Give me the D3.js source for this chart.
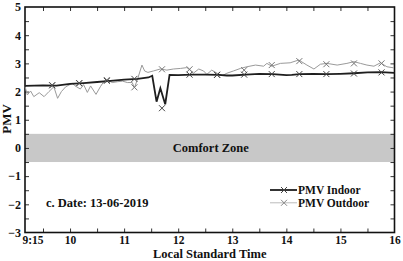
<!DOCTYPE html>
<html>
<head>
<meta charset="utf-8">
<script src="https://cdn.jsdelivr.net/npm/d3@7"></script>
<style>
  body { margin: 0; background: #fff; }
  svg text { font-family: "Liberation Serif", "Times New Roman", serif; font-weight: bold; fill: #111; }
</style>
</head>
<body>
<script>
(function(){

//series data (time in decimal hours, PMV)
var indoorTime = [9.17, 9.5, 9.75, 10.0, 10.25, 10.5, 10.75, 11.0, 11.25, 11.45, 11.52, 11.6, 11.67, 11.76, 11.84, 12.0, 12.25, 12.5, 12.75, 12.9, 13.0, 13.25, 13.5, 13.75, 14.0, 14.1, 14.25, 14.5, 14.75, 15.0, 15.25, 15.5, 15.75, 16.0];
var indoorPMV  = [2.2, 2.22, 2.21, 2.27, 2.3, 2.34, 2.38, 2.42, 2.45, 2.5, 2.56, 1.64, 2.12, 1.55, 2.59, 2.58, 2.6, 2.6, 2.59, 2.57, 2.57, 2.6, 2.63, 2.62, 2.58, 2.59, 2.62, 2.63, 2.62, 2.63, 2.65, 2.68, 2.69, 2.66];

var outdoorTime = [9.17, 9.21, 9.27, 9.33, 9.43, 9.52, 9.61, 9.70, 9.77, 9.84, 9.92, 10.04, 10.12, 10.19, 10.25, 10.32, 10.38, 10.48, 10.56, 10.63, 10.70, 10.78, 10.88, 10.97, 11.06, 11.15, 11.19, 11.25, 11.33, 11.38, 11.44, 11.54, 11.67, 11.79, 11.91, 12.04, 12.16, 12.22, 12.28, 12.38, 12.47, 12.53, 12.62, 12.72, 12.81, 12.90, 13.02, 13.15, 13.27, 13.43, 13.58, 13.64, 13.73, 13.89, 14.07, 14.23, 14.38, 14.51, 14.63, 14.75, 14.94, 15.12, 15.25, 15.37, 15.49, 15.62, 15.74, 15.86, 15.99];
var outdoorPMV  = [2.17, 1.88, 2.02, 1.82, 1.96, 1.82, 2.0, 2.17, 1.76, 2.0, 2.17, 2.29, 2.17, 2.09, 2.25, 1.97, 2.2, 1.9, 2.17, 2.37, 2.4, 2.32, 2.35, 2.37, 2.32, 2.32, 2.13, 2.45, 2.94, 2.73, 2.68, 2.73, 2.8, 2.76, 2.8, 2.82, 2.85, 2.76, 2.65, 2.8, 2.73, 2.61, 2.76, 2.65, 2.56, 2.65, 2.73, 2.82, 2.88, 2.94, 2.9, 3.0, 2.9, 3.0, 3.02, 3.12, 2.94, 2.8, 2.97, 3.0, 2.94, 3.0, 3.06, 3.0, 2.94, 2.9, 3.02, 2.88, 2.84];

//cross markers
var markerTime = [9.67, 10.17, 10.68, 11.19, 11.70, 12.21, 12.72, 13.22, 13.73, 14.24, 14.74, 15.25, 15.76];
var indoorMark  = [2.22, 2.3, 2.38, 2.45, 1.41, 2.6, 2.59, 2.6, 2.62, 2.62, 2.62, 2.64, 2.68];
var outdoorMark = [2.23, 2.29, 2.41, 2.15, 2.79, 2.79, 2.6, 2.76, 2.94, 3.08, 2.97, 3.0, 3.0];

//axis labels
var xLabelValues = [9.25, 10, 11, 12, 13, 14, 15, 16];
var xLabelText = ["9:15", "10", "11", "12", "13", "14", "15", "16"];
var yLabelValues = [-3, -2, -1, 0, 1, 2, 3, 4, 5];
var comfortZone = [-0.5, 0.5];
var seriesNames = ["PMV Indoor", "PMV Outdoor"];

var width = 403, height = 261;
var left = 25, right = 394.5, top = 7, bottom = 232.5;

var svg = d3.select("body").append("svg")
    .attr("width", width)
    .attr("height", height);

var x = d3.scaleLinear().domain([9.167, 16]).range([left, right]);
var y = d3.scaleLinear().domain([-3, 5]).range([bottom, top]);

//comfort zone band
svg.append("rect")
    .attr("x", left)
    .attr("width", right - left)
    .attr("y", y(comfortZone[1]))
    .attr("height", y(comfortZone[0]) - y(comfortZone[1]))
    .attr("fill", "#c8c8c8");

svg.append("text")
    .attr("x", (left + right) / 2 + 1)
    .attr("y", y(0) + 4)
    .attr("text-anchor", "middle")
    .style("font-size", "12.5px")
    .text("Comfort Zone");

//inward tick marks on all four sides
var halfHours = d3.range(9.5, 16, 0.5);
var halfUnits = d3.range(-2.5, 5, 0.5);
function tickAxis(axis, g){
    g.call(axis);
    g.select(".domain").remove();
    g.selectAll("text").remove();
    g.selectAll("line").attr("stroke", "#333");
}
tickAxis(d3.axisBottom(x).tickValues(halfHours).tickSize(-4),
    svg.append("g").attr("transform", "translate(0," + bottom + ")"));
tickAxis(d3.axisTop(x).tickValues(halfHours).tickSize(-4),
    svg.append("g").attr("transform", "translate(0," + top + ")"));
tickAxis(d3.axisLeft(y).tickValues(halfUnits).tickSize(-4),
    svg.append("g").attr("transform", "translate(" + left + ",0)"));
tickAxis(d3.axisRight(y).tickValues(halfUnits).tickSize(-4),
    svg.append("g").attr("transform", "translate(" + right + ",0)"));

//tick labels
var xAxis = svg.append("g")
    .attr("transform", "translate(0," + bottom + ")")
    .call(d3.axisBottom(x).tickValues(xLabelValues).tickSize(0).tickPadding(3)
        .tickFormat(function(d, i){ return xLabelText[i]; }));
xAxis.select(".domain").remove();
xAxis.selectAll("text").style("font-size", "11.5px");
xAxis.selectAll("text").filter(function(d){ return d === 9.25; }).attr("dx", 3);

var yAxis = svg.append("g")
    .attr("transform", "translate(" + left + ",0)")
    .call(d3.axisLeft(y).tickValues(yLabelValues).tickSize(0).tickPadding(4));
yAxis.select(".domain").remove();
yAxis.selectAll("text").style("font-size", "12px");

//frame
svg.append("rect")
    .attr("x", left).attr("y", top)
    .attr("width", right - left).attr("height", bottom - top)
    .attr("fill", "none")
    .attr("stroke", "#111")
    .attr("stroke-width", 1.6);

//lines
var line = d3.line()
    .x(function(d){ return x(d[0]); })
    .y(function(d){ return y(d[1]); });

var outdoor = outdoorTime.map(function(t, i){ return [t, outdoorPMV[i]]; });
var indoor = indoorTime.map(function(t, i){ return [t, indoorPMV[i]]; });

svg.append("path")
    .datum(outdoor)
    .attr("d", line)
    .attr("fill", "none")
    .attr("stroke", "#9a9a9a")
    .attr("stroke-width", 1);

svg.append("path")
    .datum(indoor)
    .attr("d", line)
    .attr("fill", "none")
    .attr("stroke", "#1e1e1e")
    .attr("stroke-width", 1.8);

//cross marker
function cross(g, cx, cy, color){
    var s = 3;
    g.append("path")
        .attr("d", "M" + (cx - s) + "," + (cy - s) + "L" + (cx + s) + "," + (cy + s) +
                   "M" + (cx - s) + "," + (cy + s) + "L" + (cx + s) + "," + (cy - s))
        .attr("stroke", color)
        .attr("stroke-width", 1)
        .attr("fill", "none");
}
var marks = svg.append("g");
markerTime.forEach(function(t, i){
    cross(marks, x(t), y(outdoorMark[i]), "#777");
    cross(marks, x(t), y(indoorMark[i]), "#444");
});

//date note
svg.append("text")
    .attr("x", 46)
    .attr("y", 207)
    .style("font-size", "12.5px")
    .text("c. Date: 13-06-2019");

//legend
var legend = svg.append("g");
var legendColors = ["#1e1e1e", "#bbbbbb"];
var legendWidths = [1.8, 1];
var markColors = ["#444", "#888"];
seriesNames.forEach(function(name, i){
    var ly = 190 + i * 12.8;
    legend.append("line")
        .attr("x1", 270).attr("x2", 297)
        .attr("y1", ly).attr("y2", ly)
        .attr("stroke", legendColors[i])
        .attr("stroke-width", legendWidths[i]);
    cross(legend, 284, ly, markColors[i]);
    legend.append("text")
        .attr("x", 298)
        .attr("y", ly + 4)
        .style("font-size", "11.5px")
        .text(name);
});

//axis titles
svg.append("text")
    .attr("x", (left + right) / 2)
    .attr("y", 258)
    .attr("text-anchor", "middle")
    .style("font-size", "12.5px")
    .text("Local Standard Time");

svg.append("text")
    .attr("transform", "translate(11,119) rotate(-90)")
    .attr("text-anchor", "middle")
    .style("font-size", "13px")
    .text("PMV");

})();
</script>
</body>
</html>
